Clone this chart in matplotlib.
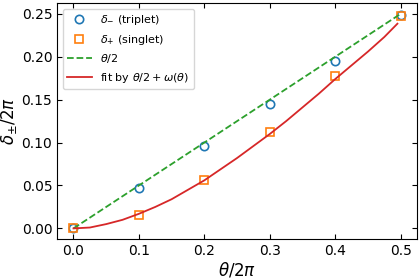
import matplotlib
matplotlib.use("Agg")
import matplotlib.pyplot as plt

theta = [0.0, 0.1, 0.2, 0.3, 0.4, 0.5]
delta_minus = [0.0, 0.0473, 0.096, 0.1449, 0.1952, 0.249]
delta_plus = [0.0, 0.016, 0.0567, 0.1124, 0.177, 0.248]

fit_x = [0.0, 0.025, 0.05, 0.075, 0.1, 0.125, 0.15, 0.175, 0.2, 0.225, 0.25,
         0.275, 0.3, 0.325, 0.35, 0.375, 0.4, 0.425, 0.45, 0.475, 0.495]
fit_y = [0.0, 0.001, 0.005, 0.010, 0.017, 0.025, 0.034, 0.045, 0.056, 0.069, 0.082,
         0.096, 0.110, 0.125, 0.141, 0.157, 0.174, 0.190, 0.206, 0.223, 0.2385]

half_x = [0.0, 0.5]
half_y = [0.0, 0.25]

fig = plt.figure(figsize=(4.2, 2.8), dpi=100)
ax = fig.add_axes([0.136, 0.146, 0.857, 0.843])

ax.plot(theta, delta_minus, 'o', mfc='none', mec='C0', ms=6, mew=1.2,
        label=r'$\delta_{-}$ (triplet)')
ax.plot(theta, delta_plus, 's', mfc='none', mec='C1', ms=6, mew=1.2,
        label=r'$\delta_{+}$ (singlet)')
ax.plot(half_x, half_y, '--', color='C2', lw=1.3, label=r'$\theta/2$')
ax.plot(fit_x, fit_y, '-', color='C3', lw=1.3, label=r'fit by $\theta/2+\omega(\theta)$')

ax.set_xlabel(r'$\theta/2\pi$', fontsize=12, labelpad=2)
ax.set_ylabel(r'$\delta_{\pm}/2\pi$', fontsize=12, labelpad=2)
ax.set_xticks([0.0, 0.1, 0.2, 0.3, 0.4, 0.5])
ax.set_yticks([0.0, 0.05, 0.10, 0.15, 0.20, 0.25])
ax.tick_params(direction='in', top=True, right=True, labelsize=10)
ax.legend(loc='upper left', fontsize=8, handlelength=2.2)

fig.savefig('out.png', dpi=100)
